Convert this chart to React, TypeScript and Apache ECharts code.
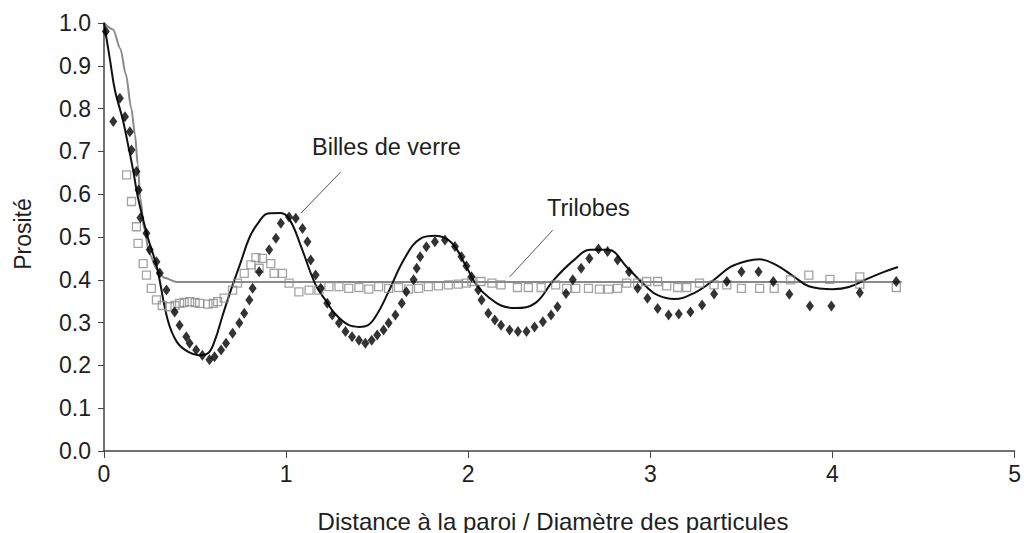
import React, { useEffect, useRef } from "react";
import * as echarts from "echarts";

// ---- Data ----
const xTicks = [0, 1, 2, 3, 4, 5];
const yTicks = [0, 0.1, 0.2, 0.3, 0.4, 0.5, 0.6, 0.7, 0.8, 0.9, 1.0];

// Billes de verre – model (black solid line)
const billesModel: [number, number][] = [
  [0, 1.0], [0.033, 0.914], [0.06, 0.843], [0.104, 0.773], [0.13, 0.72], [0.16, 0.656],
  [0.186, 0.593], [0.24, 0.5], [0.29, 0.43], [0.35, 0.306], [0.4, 0.255], [0.46, 0.232],
  [0.52, 0.224], [0.57, 0.228], [0.61, 0.26], [0.65, 0.315], [0.7, 0.38], [0.75, 0.44],
  [0.8, 0.5], [0.85, 0.535], [0.9, 0.555], [0.97, 0.556], [1.02, 0.54], [1.08, 0.48],
  [1.16, 0.39], [1.22, 0.35], [1.27, 0.32], [1.34, 0.295], [1.4, 0.29], [1.45, 0.294],
  [1.5, 0.32], [1.56, 0.37], [1.65, 0.45], [1.74, 0.497], [1.82, 0.503], [1.91, 0.486],
  [1.99, 0.43], [2.05, 0.385], [2.11, 0.36], [2.18, 0.34], [2.26, 0.334], [2.37, 0.346],
  [2.47, 0.4], [2.58, 0.446], [2.67, 0.47], [2.77, 0.47], [2.87, 0.43], [2.98, 0.383],
  [3.04, 0.364], [3.13, 0.355], [3.24, 0.369], [3.35, 0.4], [3.44, 0.43], [3.53, 0.444],
  [3.6, 0.448], [3.69, 0.435], [3.79, 0.407], [3.87, 0.385], [4.0, 0.378], [4.09, 0.383],
  [4.2, 0.404], [4.28, 0.418], [4.36, 0.43],
];

// Trilobes – model (grey solid line)
const trilobesModel: [number, number][] = [
  [0, 1.0], [0.05, 0.985], [0.09, 0.94], [0.12, 0.88], [0.15, 0.8], [0.17, 0.74],
  [0.185, 0.67], [0.2, 0.59], [0.22, 0.52], [0.25, 0.46], [0.29, 0.425], [0.33, 0.405],
  [0.4, 0.395], [4.38, 0.395],
];

// Billes de verre – measurements (black diamonds)
const billesData: [number, number][] = [
  [0.01, 0.98], [0.051, 0.77], [0.087, 0.824], [0.115, 0.781], [0.142, 0.746], [0.151, 0.703],
  [0.178, 0.653], [0.19, 0.61], [0.2, 0.545], [0.233, 0.509], [0.251, 0.47], [0.288, 0.442],
  [0.306, 0.416], [0.343, 0.376], [0.388, 0.325], [0.415, 0.294], [0.452, 0.267], [0.47, 0.252],
  [0.506, 0.236], [0.54, 0.224], [0.579, 0.213], [0.607, 0.22], [0.643, 0.236], [0.67, 0.252],
  [0.706, 0.275], [0.743, 0.299], [0.77, 0.322], [0.798, 0.353], [0.816, 0.38], [0.852, 0.419],
  [0.907, 0.47], [0.944, 0.497], [0.971, 0.532], [1.016, 0.547], [1.053, 0.544], [1.09, 0.52],
  [1.117, 0.489], [1.135, 0.446], [1.162, 0.411], [1.19, 0.38], [1.226, 0.345], [1.253, 0.318],
  [1.29, 0.299], [1.326, 0.279], [1.362, 0.267], [1.4, 0.259], [1.435, 0.252], [1.47, 0.259],
  [1.5, 0.271], [1.535, 0.283], [1.563, 0.299], [1.6, 0.318], [1.635, 0.345], [1.66, 0.372],
  [1.7, 0.4], [1.717, 0.427], [1.736, 0.454], [1.77, 0.477], [1.817, 0.489], [1.872, 0.493],
  [1.927, 0.478], [1.963, 0.454], [1.99, 0.432], [2.018, 0.407], [2.055, 0.376], [2.073, 0.353],
  [2.11, 0.322], [2.146, 0.306], [2.18, 0.294], [2.227, 0.283], [2.273, 0.279], [2.32, 0.279],
  [2.364, 0.29], [2.41, 0.302], [2.455, 0.318], [2.49, 0.337], [2.537, 0.368], [2.574, 0.4],
  [2.62, 0.427], [2.665, 0.45], [2.715, 0.472], [2.765, 0.466], [2.82, 0.446], [2.883, 0.419],
  [2.93, 0.38], [2.984, 0.357], [3.04, 0.333], [3.1, 0.318], [3.156, 0.32], [3.22, 0.325],
  [3.284, 0.341], [3.35, 0.367], [3.42, 0.396], [3.5, 0.419], [3.594, 0.419], [3.675, 0.396],
  [3.763, 0.366], [3.876, 0.339], [3.994, 0.339], [4.15, 0.37], [4.35, 0.396],
];

// Trilobes – measurements (hollow grey squares)
const trilobesData: [number, number][] = [
  [0.124, 0.645], [0.151, 0.583], [0.178, 0.524], [0.187, 0.485], [0.215, 0.438], [0.233, 0.411],
  [0.26, 0.38], [0.288, 0.353], [0.32, 0.34], [0.36, 0.337], [0.39, 0.34], [0.415, 0.345],
  [0.44, 0.347], [0.47, 0.349], [0.5, 0.347], [0.525, 0.345], [0.57, 0.343], [0.6, 0.345],
  [0.624, 0.349], [0.66, 0.357], [0.706, 0.376], [0.733, 0.392], [0.77, 0.415], [0.807, 0.435],
  [0.834, 0.452], [0.852, 0.427], [0.87, 0.45], [0.916, 0.438], [0.934, 0.415], [0.98, 0.415],
  [1.016, 0.392], [1.07, 0.372], [1.126, 0.376], [1.18, 0.376], [1.235, 0.384], [1.29, 0.384],
  [1.344, 0.38], [1.4, 0.382], [1.454, 0.378], [1.508, 0.384], [1.563, 0.38], [1.617, 0.382],
  [1.672, 0.378], [1.727, 0.38], [1.781, 0.384], [1.836, 0.386], [1.891, 0.388], [1.945, 0.39],
  [1.99, 0.392], [2.02, 0.396], [2.07, 0.396], [2.13, 0.392], [2.18, 0.388], [2.27, 0.382],
  [2.33, 0.382], [2.4, 0.382], [2.48, 0.388], [2.54, 0.38], [2.59, 0.38], [2.66, 0.38],
  [2.72, 0.378], [2.77, 0.378], [2.82, 0.38], [2.87, 0.392], [2.93, 0.392], [2.98, 0.396],
  [3.04, 0.396], [3.09, 0.386], [3.15, 0.382], [3.2, 0.382], [3.27, 0.392], [3.35, 0.388],
  [3.42, 0.388], [3.5, 0.38], [3.6, 0.38], [3.68, 0.38], [3.77, 0.4], [3.87, 0.411],
  [3.986, 0.401], [4.15, 0.407], [4.15, 0.39], [4.35, 0.382],
];

// Annotation pointers (data coordinates)
const billesPointer: [number, number][] = [[1.3, 0.652], [1.082, 0.556]];
const trilobesPointer: [number, number][] = [[2.464, 0.516], [2.228, 0.407]];

const FONT = "'Liberation Sans', Arial, sans-serif";
const TEXT = "#1e1e1e";
const AXIS = "#444";

export default function App() {
  const ref = useRef<HTMLDivElement>(null);
  useEffect(() => {
    if (!ref.current) return;
    const chart = echarts.init(ref.current, null, { renderer: "svg" });
    chart.setOption({
      animation: false,
      backgroundColor: "#fff",
      textStyle: { fontFamily: FONT },
      grid: { left: 104, right: 5, top: 23, bottom: 82, containLabel: false },
      xAxis: {
        type: "value",
        min: xTicks[0],
        max: xTicks[xTicks.length - 1],
        interval: 1,
        splitLine: { show: false },
        axisLine: { lineStyle: { color: AXIS, width: 1.5 } },
        axisTick: { show: true, length: 7, lineStyle: { color: AXIS, width: 1 } },
        axisLabel: { color: TEXT, fontSize: 23, fontFamily: FONT, margin: 11 },
      },
      yAxis: {
        type: "value",
        min: yTicks[0],
        max: yTicks[yTicks.length - 1],
        interval: 0.1,
        splitLine: { show: false },
        axisLine: { show: true, lineStyle: { color: AXIS, width: 1.5 } },
        axisTick: { show: true, length: 6, lineStyle: { color: AXIS, width: 1 } },
        axisLabel: {
          color: TEXT,
          fontSize: 23,
          fontFamily: FONT,
          margin: 13,
          formatter: (v: number) => v.toFixed(1),
        },
      },
      graphic: [
        {
          type: "text",
          x: 553,
          y: 521,
          style: {
            text: "Distance à la paroi / Diamètre des particules",
            font: `24px ${FONT}`,
            fill: TEXT,
            textAlign: "center",
            textVerticalAlign: "middle",
          },
        },
        {
          type: "text",
          x: 23,
          y: 234,
          rotation: Math.PI / 2,
          style: {
            text: "Prosité",
            font: `23px ${FONT}`,
            fill: TEXT,
            textAlign: "center",
            textVerticalAlign: "middle",
          },
        },
        {
          type: "text",
          x: 312,
          y: 147,
          style: {
            text: "Billes de verre",
            font: `23.5px ${FONT}`,
            fill: TEXT,
            textAlign: "left",
            textVerticalAlign: "middle",
          },
        },
        {
          type: "text",
          x: 547,
          y: 208,
          style: {
            text: "Trilobes",
            font: `23.5px ${FONT}`,
            fill: TEXT,
            textAlign: "left",
            textVerticalAlign: "middle",
          },
        },
      ],
      series: [
        {
          type: "line",
          data: trilobesModel,
          showSymbol: false,
          smooth: 0.3,
          smoothMonotone: "x",
          lineStyle: { color: "#8a8a8a", width: 2 },
          z: 1,
        },
        {
          type: "line",
          data: billesModel,
          showSymbol: false,
          smooth: 0.4,
          lineStyle: { color: "#111", width: 2 },
          z: 2,
        },
        {
          type: "scatter",
          data: trilobesData,
          symbol: "rect",
          symbolSize: 8,
          itemStyle: { color: "rgba(255,255,255,0)", borderColor: "#8c8c8c", borderWidth: 1.3 },
          z: 3,
        },
        {
          type: "scatter",
          data: billesData,
          symbol: "diamond",
          symbolSize: [8, 11],
          itemStyle: { color: "#000" },
          z: 4,
        },
        {
          type: "line",
          data: billesPointer,
          showSymbol: false,
          lineStyle: { color: "#555", width: 1 },
          z: 5,
        },
        {
          type: "line",
          data: trilobesPointer,
          showSymbol: false,
          lineStyle: { color: "#555", width: 1 },
          z: 5,
        },
      ],
    });
    return () => chart.dispose();
  }, []);
  return (
    <div
      ref={ref}
      style={{ position: "fixed", left: 0, top: 0, width: 1024, height: 533, background: "#fff" }}
    />
  );
}
